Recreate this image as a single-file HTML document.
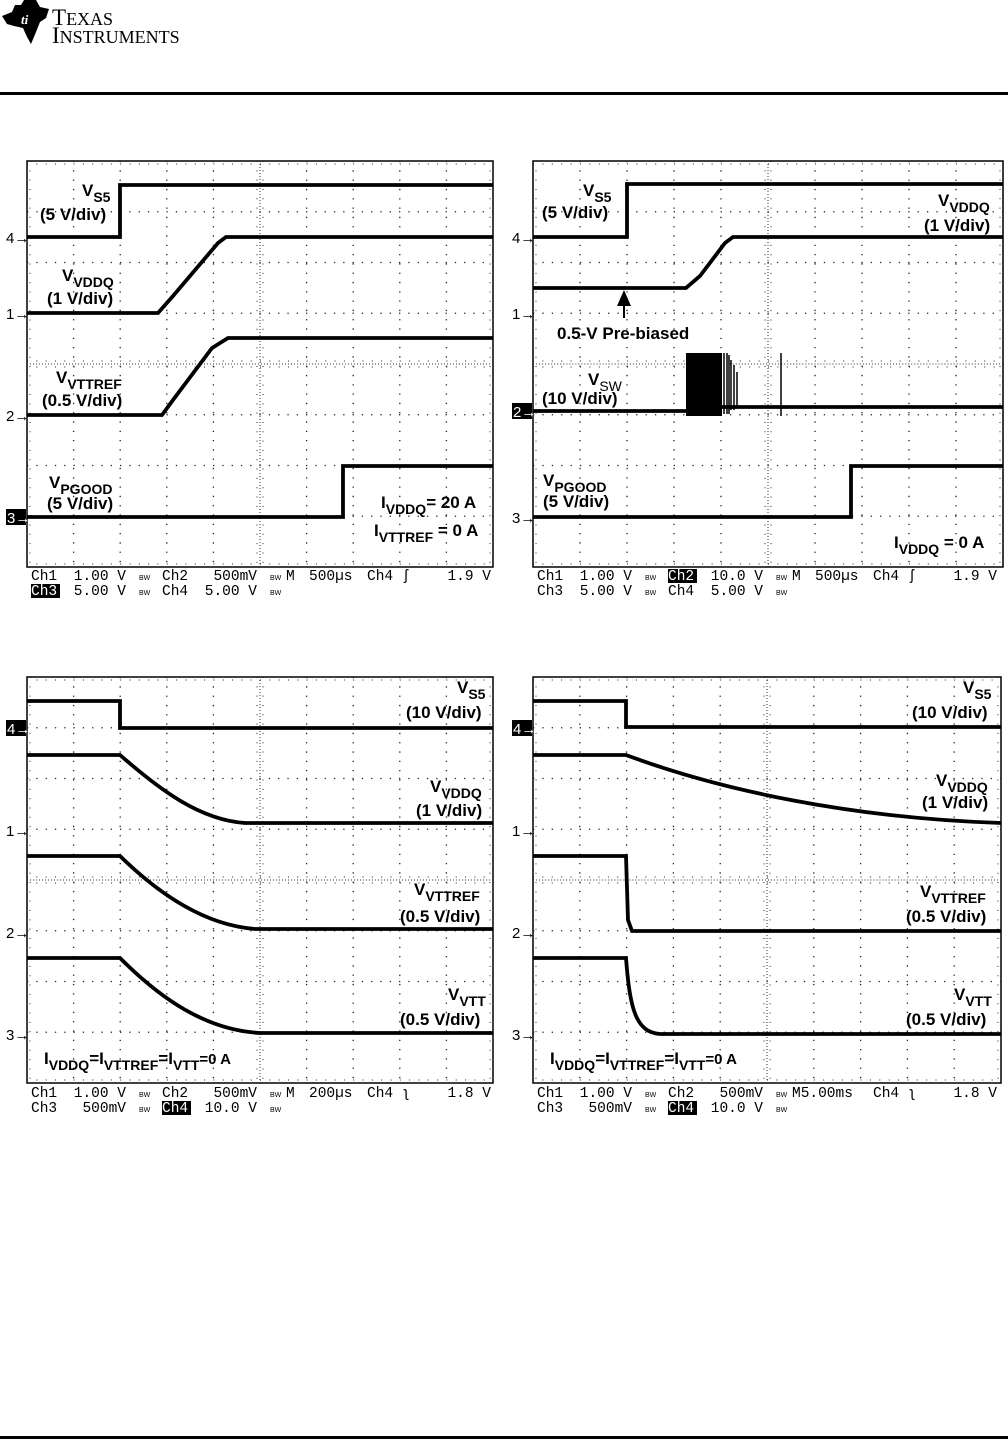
<!DOCTYPE html>
<html><head><meta charset="utf-8"><style>
html,body{margin:0;padding:0;background:#fff;}
svg{display:block;}
.l{font-family:"Liberation Sans",sans-serif;font-weight:bold;font-size:17px;}
.s{font-size:14px;}
.m{font-family:"Liberation Mono",monospace;font-size:14.5px;}
.k{font-family:"Liberation Sans",sans-serif;font-size:15px;}
.bw{font-family:"Liberation Sans",sans-serif;font-size:7px;}
.tr{fill:none;stroke:#000;stroke-width:3.8;}
</style></head><body>
<svg width="1008" height="1440" viewBox="0 0 1008 1440" xmlns="http://www.w3.org/2000/svg">
<defs>
<g id="grid">
  <rect x="0" y="0" width="466" height="406" fill="none" stroke="#000" stroke-width="1.5"/>
  <g stroke="#222" stroke-width="1.3" stroke-dasharray="1.3 8">
    <path d="M46.6 0V406M93.2 0V406M139.8 0V406M186.4 0V406M279.6 0V406M326.2 0V406M372.8 0V406M419.4 0V406"/>
    <path d="M0 50.75H466M0 101.5H466M0 152.25H466M0 253.75H466M0 304.5H466M0 355.25H466"/>
  </g>
  <g stroke="#333" stroke-width="1" stroke-dasharray="1 2">
    <path d="M233 0V406M0 203H466"/>
  </g>
  <g stroke="#222" stroke-width="1" stroke-dasharray="1 8.32">
    <path d="M230 0V406M236 0V406M0 200H466M0 206H466"/>
    <path d="M3 0V406M463 0V406M0 3H466M0 403H466"/>
  </g>
</g>
</defs>

<!-- header logo -->
<g>
  <path d="M2 16 L12 12 L15 5 L21 5 L24 0 L36 0 L40 7 L49 9 L46 18 L40 22 L36 32 L31 44 L27 37 L23 28 L14 26 L7 24 Z" fill="#000"/>
  <text x="21" y="24" font-family="Liberation Serif,serif" font-style="italic" font-weight="bold" font-size="13" fill="#fff">ti</text>
  <text x="52" y="25" font-family="Liberation Serif,serif" font-size="23" fill="#000">T<tspan font-size="18">EXAS</tspan></text>
  <text x="52" y="43" font-family="Liberation Serif,serif" font-size="23" fill="#000">I<tspan font-size="18">NSTRUMENTS</tspan></text>
</g>
<rect x="0" y="92" width="1008" height="3" fill="#000"/>
<rect x="0" y="1436" width="1008" height="3" fill="#000"/>

<!-- Panel A -->
<use href="#grid" x="27" y="161"/>
<g class="tr">
  <path d="M27 237H120V185H493"/>
  <path d="M27 313H158L173 296L218 243L226 237H493"/>
  <path d="M27 415H162L173 400L212 348L228 338H493"/>
  <path d="M27 517H343V466H493"/>
</g>
<g class="l">
  <text x="82" y="196">V<tspan class="s" dy="6">S5</tspan></text>
  <text x="40" y="220">(5 V/div)</text>
  <text x="62" y="281">V<tspan class="s" dy="6">VDDQ</tspan></text>
  <text x="47" y="304">(1 V/div)</text>
  <text x="56" y="383">V<tspan class="s" dy="6">VTTREF</tspan></text>
  <text x="42" y="406">(0.5 V/div)</text>
  <text x="49" y="488">V<tspan class="s" dy="6">PGOOD</tspan></text>
  <text x="47" y="509">(5 V/div)</text>
  <text x="381" y="508">I<tspan class="s" dy="6">VDDQ</tspan><tspan dy="-6">= 20 A</tspan></text>
  <text x="374" y="536">I<tspan class="s" dy="6">VTTREF</tspan><tspan dy="-6"> = 0 A</tspan></text>
</g>
<g class="k">
  <text x="6" y="243">4→</text><text x="6" y="319">1→</text><text x="6" y="421">2→</text>
  <rect x="6" y="509" width="20" height="16"/><text x="7" y="523" fill="#fff">3→</text>
</g>
<g class="m">
  <text x="31" y="580">Ch1</text><text x="126" y="580" text-anchor="end">1.00 V</text><text x="162" y="580">Ch2</text><text x="257" y="580" text-anchor="end">500mV</text><text x="286" y="580">M</text><text x="309" y="580">500µs</text><text x="367" y="580">Ch4 ʃ</text><text x="491" y="580" text-anchor="end">1.9 V</text>
  <rect x="31" y="584" width="29" height="14"/><text x="31" y="595" fill="#fff">Ch3</text><text x="126" y="595" text-anchor="end">5.00 V</text><text x="162" y="595">Ch4</text><text x="257" y="595" text-anchor="end">5.00 V</text>
</g>
<g class="bw"><text x="139" y="580">BW</text><text x="270" y="580">BW</text><text x="139" y="595">BW</text><text x="270" y="595">BW</text></g>

<!-- Panel B -->
<g transform="translate(533 161) scale(1.0086 1)"><use href="#grid"/></g>
<g class="tr">
  <path d="M533 237H627V184H1003"/>
  <path d="M533 288H686L700 276L725 243L733 237H1003"/>
  <path d="M533 411H686M722 407H1003"/>
  <path d="M533 517H851V466H1003"/>
</g>
<rect x="686" y="353" width="36" height="63" fill="#000"/>
<g stroke="#000" stroke-width="1.5"><path d="M724 353V414M727 353V414M729 355V414M731 360V410M734 365V410M737 372V408M781 353V416"/></g>
<path d="M624 290L617 306H631Z" fill="#000"/><path d="M624 305V318" stroke="#000" stroke-width="2"/>
<g class="l">
  <text x="583" y="196">V<tspan class="s" dy="6">S5</tspan></text>
  <text x="542" y="218">(5 V/div)</text>
  <text x="938" y="206">V<tspan class="s" dy="6">VDDQ</tspan></text>
  <text x="924" y="231">(1 V/div)</text>
  <text x="557" y="339">0.5-V Pre-biased</text>
  <text x="588" y="385">V<tspan class="s" dy="6" font-weight="normal">SW</tspan></text>
  <text x="542" y="404">(10 V/div)</text>
  <text x="543" y="486">V<tspan class="s" dy="6">PGOOD</tspan></text>
  <text x="543" y="507">(5 V/div)</text>
  <text x="894" y="548">I<tspan class="s" dy="6">VDDQ</tspan><tspan dy="-6"> = 0 A</tspan></text>
</g>
<g class="k">
  <text x="512" y="243">4→</text><text x="512" y="319">1→</text><text x="512" y="523">3→</text>
  <rect x="512" y="403" width="20" height="16"/><text x="513" y="417" fill="#fff">2→</text>
</g>
<g class="m">
  <text x="537" y="580">Ch1</text><text x="632" y="580" text-anchor="end">1.00 V</text><rect x="668" y="569" width="29" height="14"/><text x="668" y="580" fill="#fff">Ch2</text><text x="763" y="580" text-anchor="end">10.0 V</text><text x="792" y="580">M</text><text x="815" y="580">500µs</text><text x="873" y="580">Ch4 ʃ</text><text x="997" y="580" text-anchor="end">1.9 V</text>
  <text x="537" y="595">Ch3</text><text x="632" y="595" text-anchor="end">5.00 V</text><text x="668" y="595">Ch4</text><text x="763" y="595" text-anchor="end">5.00 V</text>
</g>
<g class="bw"><text x="645" y="580">BW</text><text x="776" y="580">BW</text><text x="645" y="595">BW</text><text x="776" y="595">BW</text></g>

<!-- Panel C -->
<use href="#grid" x="27" y="677"/>
<g class="tr">
  <path d="M27 701H120V728H493"/>
  <path d="M27 755H120C160 790 200 820 245 823H493"/>
  <path d="M27 856H120C160 895 205 925 255 929H493"/>
  <path d="M27 958H120C160 998 205 1030 260 1033H493"/>
</g>
<g class="l">
  <text x="457" y="693">V<tspan class="s" dy="6">S5</tspan></text>
  <text x="406" y="718">(10 V/div)</text>
  <text x="430" y="792">V<tspan class="s" dy="6">VDDQ</tspan></text>
  <text x="416" y="816">(1 V/div)</text>
  <text x="414" y="895">V<tspan class="s" dy="6">VTTREF</tspan></text>
  <text x="400" y="922">(0.5 V/div)</text>
  <text x="448" y="1000">V<tspan class="s" dy="6">VTT</tspan></text>
  <text x="400" y="1025">(0.5 V/div)</text>
  <text x="44" y="1064">I<tspan class="s" dy="6">VDDQ</tspan><tspan dy="-6">=I</tspan><tspan class="s" dy="6">VTTREF</tspan><tspan dy="-6">=I</tspan><tspan class="s" dy="6">VTT</tspan><tspan dy="-6" font-size="15">=0 A</tspan></text>
</g>
<g class="k">
  <rect x="6" y="720" width="20" height="16"/><text x="7" y="734" fill="#fff">4→</text>
  <text x="6" y="836">1→</text><text x="6" y="938">2→</text><text x="6" y="1040">3→</text>
</g>
<g class="m">
  <text x="31" y="1097">Ch1</text><text x="126" y="1097" text-anchor="end">1.00 V</text><text x="162" y="1097">Ch2</text><text x="257" y="1097" text-anchor="end">500mV</text><text x="286" y="1097">M</text><text x="309" y="1097">200µs</text><text x="367" y="1097">Ch4 ʅ</text><text x="491" y="1097" text-anchor="end">1.8 V</text>
  <text x="31" y="1112">Ch3</text><text x="126" y="1112" text-anchor="end">500mV</text><rect x="162" y="1101" width="29" height="14"/><text x="162" y="1112" fill="#fff">Ch4</text><text x="257" y="1112" text-anchor="end">10.0 V</text>
</g>
<g class="bw"><text x="139" y="1097">BW</text><text x="270" y="1097">BW</text><text x="139" y="1112">BW</text><text x="270" y="1112">BW</text></g>

<!-- Panel D -->
<g transform="translate(533 677) scale(1.0043 1)"><use href="#grid"/></g>
<g class="tr">
  <path d="M533 701H626V727H1001"/>
  <path d="M533 755H626C720 790 850 818 1001 823"/>
  <path d="M533 856H626L628 920L632 931H1001"/>
  <path d="M533 958H626C630 1010 636 1032 660 1034H1001"/>
</g>
<g class="l">
  <text x="963" y="693">V<tspan class="s" dy="6">S5</tspan></text>
  <text x="912" y="718">(10 V/div)</text>
  <text x="936" y="786">V<tspan class="s" dy="6">VDDQ</tspan></text>
  <text x="922" y="808">(1 V/div)</text>
  <text x="920" y="897">V<tspan class="s" dy="6">VTTREF</tspan></text>
  <text x="906" y="922">(0.5 V/div)</text>
  <text x="954" y="1000">V<tspan class="s" dy="6">VTT</tspan></text>
  <text x="906" y="1025">(0.5 V/div)</text>
  <text x="550" y="1064">I<tspan class="s" dy="6">VDDQ</tspan><tspan dy="-6">=I</tspan><tspan class="s" dy="6">VTTREF</tspan><tspan dy="-6">=I</tspan><tspan class="s" dy="6">VTT</tspan><tspan dy="-6" font-size="15">=0 A</tspan></text>
</g>
<g class="k">
  <rect x="512" y="720" width="20" height="16"/><text x="513" y="734" fill="#fff">4→</text>
  <text x="512" y="836">1→</text><text x="512" y="938">2→</text><text x="512" y="1040">3→</text>
</g>
<g class="m">
  <text x="537" y="1097">Ch1</text><text x="632" y="1097" text-anchor="end">1.00 V</text><text x="668" y="1097">Ch2</text><text x="763" y="1097" text-anchor="end">500mV</text><text x="792" y="1097">M5.00ms</text><text x="873" y="1097">Ch4 ʅ</text><text x="997" y="1097" text-anchor="end">1.8 V</text>
  <text x="537" y="1112">Ch3</text><text x="632" y="1112" text-anchor="end">500mV</text><rect x="668" y="1101" width="29" height="14"/><text x="668" y="1112" fill="#fff">Ch4</text><text x="763" y="1112" text-anchor="end">10.0 V</text>
</g>
<g class="bw"><text x="645" y="1097">BW</text><text x="776" y="1097">BW</text><text x="645" y="1112">BW</text><text x="776" y="1112">BW</text></g>
</svg>
</body></html>
